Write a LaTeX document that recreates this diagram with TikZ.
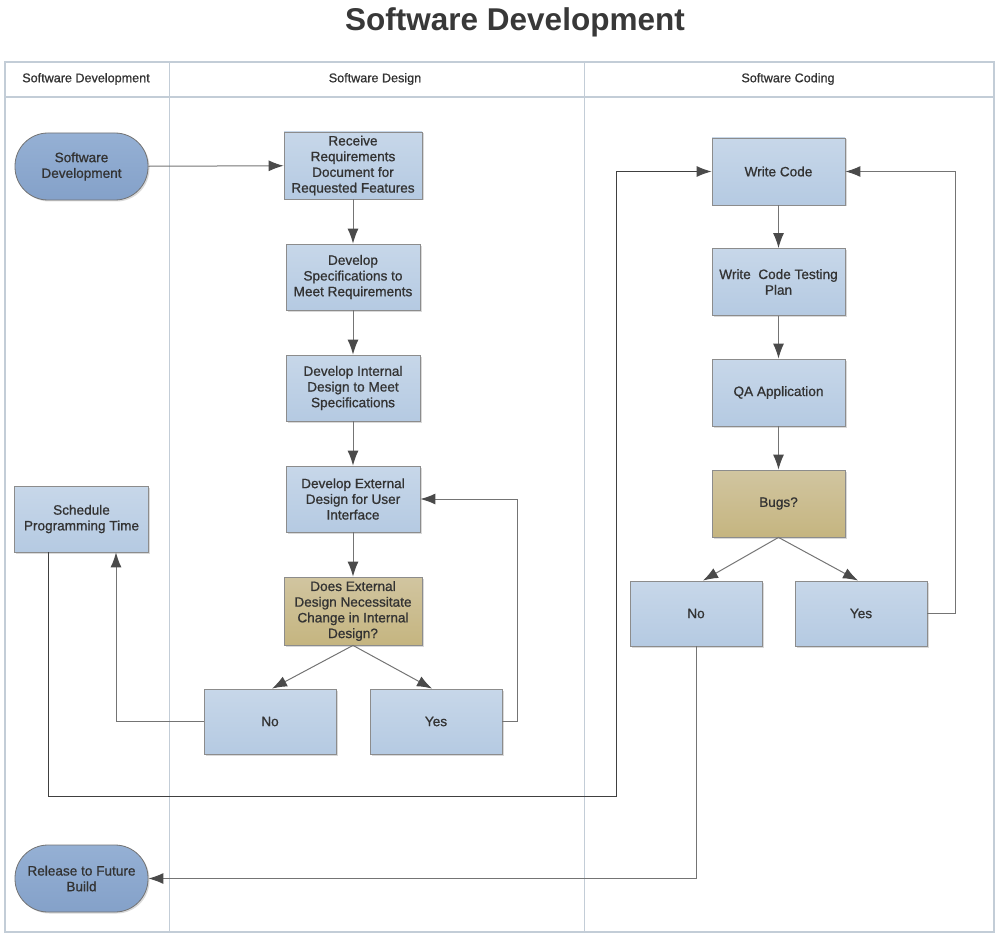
\documentclass[tikz,border=0pt]{standalone}
\usepackage{fontspec}
\setmainfont{Liberation Sans}
\newfontface\boxfont{Liberation Sans}[FakeBold=0.9]
\usetikzlibrary{arrows.meta,shadows}

\definecolor{boxtop}{HTML}{C7D7E9}
\definecolor{boxbot}{HTML}{B5CAE2}
\definecolor{termtop}{HTML}{95B0D4}
\definecolor{termbot}{HTML}{84A1C9}
\definecolor{tantop}{HTML}{D1C5A0}
\definecolor{tanbot}{HTML}{C5B580}
\definecolor{laneline}{HTML}{C3CDD7}
\definecolor{edgegray}{HTML}{747474}
\definecolor{tipgray}{HTML}{4A4A4A}
\definecolor{textgray}{HTML}{333333}

\tikzset{
  base/.style={draw=black!45, line width=0.8pt, align=center, text=textgray,
    font=\boxfont\fontsize{13.6}{15.7}\selectfont, inner sep=2pt,
    drop shadow={shadow xshift=1.5pt, shadow yshift=-1.5pt, opacity=0.3}},
  task/.style={base, rectangle, top color=boxtop, bottom color=boxbot,
    minimum width=134pt, minimum height=66pt},
  choice/.style={task, top color=tantop, bottom color=tanbot},
  term/.style={base, draw=black!55, rounded corners=33pt, top color=termtop,
    bottom color=termbot, minimum width=133pt, minimum height=67pt},
  lane/.style={font=\boxfont\fontsize{12.6}{14}\selectfont, text=textgray},
  flow/.style={draw=edgegray, line width=1pt,
    -{Latex[length=15pt,width=11pt,color=tipgray]}},
}

\begin{document}
\begin{tikzpicture}[x=1pt, y=-1pt]
        \useasboundingbox (0,0) rectangle (998,936);

        % Title and lanes
        \node[font=\fontsize{31.5}{36}\selectfont\bfseries, text=black!78] (title) at (515,22) {Software Development};
        \draw[laneline, line width=1.3pt] (5,62) rectangle (994,932);
        \draw[laneline, line width=1.3pt] (5,97) -- (994,97);
        \draw[laneline, line width=0.8pt] (169,62) -- (169,932);
        \draw[laneline, line width=0.8pt] (584,62) -- (584,932);
        \node[lane] (h1) at (86,79) {Software Development};
        \node[lane] (h2) at (375,79) {Software Design};
        \node[lane] (h3) at (788,79) {Software Coding};

        % Define steps
        \node[term] (start) at (81.5,166.5) {Software\\Development};
        \node[task] (sched) at (81.5,519) {Schedule\\Programming Time};
        \node[term] (release) at (81.5,878.5) {Release to Future\\Build};

        \node[task, minimum width=138pt, minimum height=67pt] (recv) at (353,165.5) {Receive\\Requirements\\Document for\\Requested Features};
        \node[task] (spec) at (353,277) {Develop\\Specifications to\\Meet Requirements};
        \node[task] (intern) at (353,388) {Develop Internal\\Design to Meet\\Specifications};
        \node[task] (extern) at (353,499) {Develop External\\Design for User\\Interface};
        \node[choice, minimum width=138pt, minimum height=68pt] (change) at (353,611) {Does External\\Design Necessitate\\Change in Internal\\Design?};
        \node[task, minimum width=132pt, minimum height=65pt] (no1) at (270,721.5) {No};
        \node[task, minimum width=132pt, minimum height=65pt] (yes1) at (436,721.5) {Yes};

        \node[task, minimum width=133pt, minimum height=67pt] (code) at (778.5,171.5) {Write Code};
        \node[task, minimum width=133pt, minimum height=67pt] (plan) at (778.5,282) {Write\ \ Code Testing\\Plan};
        \node[task, minimum width=133pt, minimum height=67pt] (qa) at (778.5,392.5) {QA Application};
        \node[choice, minimum width=133pt, minimum height=67pt] (bugs) at (778.5,503.5) {Bugs?};
        \node[task, minimum width=132pt, minimum height=65pt] (no2) at (696,613.5) {No};
        \node[task, minimum width=132pt, minimum height=65pt] (yes2) at (861,613.5) {Yes};

        \coordinate (loop) at (616,796);

        % Draw flows
        \draw[flow] (start) -- (recv);
        \draw[flow] (recv) -- (spec);
        \draw[flow] (spec) -- (intern);
        \draw[flow] (intern) -- (extern);
        \draw[flow] (extern) -- (change);
        \draw[flow] (change.south) -- ([xshift=2pt]no1.north);
        \draw[flow] (change.south) -- ([xshift=-4pt]yes1.north);
        \draw[flow] (no1.west) -| ([xshift=34.5pt]sched.south);
        \draw[flow] (yes1.east) -- ++(15,0) |- (extern.east);
        \draw[flow, draw=black!75] ([xshift=-33.5pt]sched.south) |- (loop) |- (code.west);

        \draw[flow] (code) -- (plan);
        \draw[flow] (plan) -- (qa);
        \draw[flow] (qa) -- (bugs);
        \draw[flow] (bugs.south) -- ([xshift=7pt]no2.north);
        \draw[flow] (bugs.south) -- ([xshift=-3pt]yes2.north);
        \draw[flow] (yes2.east) -- ++(28,0) |- (code.east);
        \draw[flow] (no2.south) |- (release.east);
    \end{tikzpicture}
\end{document}
